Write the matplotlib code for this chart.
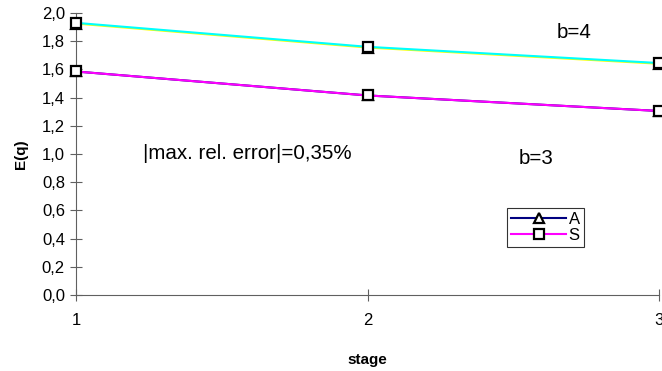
import numpy as np
import matplotlib.pyplot as plt
from matplotlib.ticker import FuncFormatter

plt.rcParams['font.family'] = ['Liberation Sans', 'DejaVu Sans']

# stages and E(q) values for b=3 and b=4
stage = [1, 2, 3]
b3_A = [1.585, 1.415, 1.305]
b3_S = [1.585, 1.415, 1.305]
b4_A = [1.925, 1.755, 1.640]
b4_S = [1.930, 1.760, 1.645]

fig = plt.figure(figsize=(6.62, 3.71), dpi=100)
ax = fig.add_axes([0.1148, 0.2049, 0.8807, 0.7601])

mk = dict(markersize=7, markerfacecolor='white', markeredgecolor='black',
          markeredgewidth=1.6, clip_on=False, zorder=3)
ax.plot(stage, b4_A, color='yellow', lw=1.5, marker='^', **mk)
ax.plot(stage, b4_S, color='cyan', lw=1.5, marker='s', **mk)
la, = ax.plot(stage, b3_A, color='navy', lw=1.5, marker='^', **mk)
ls, = ax.plot(stage, b3_S, color='magenta', lw=1.5, marker='s', **mk)

ax.set_xlim(1, 3)
ax.set_ylim(0, 2.0)
ax.set_xticks([1, 2, 3])
ax.set_yticks(np.arange(0, 2.01, 0.2))
ax.yaxis.set_major_formatter(FuncFormatter(lambda v, p: f'{v:.1f}'.replace('.', ',')))
for s in ['top', 'right']:
    ax.spines[s].set_visible(False)
for s in ['left', 'bottom']:
    ax.spines[s].set_color('#606060')
ax.tick_params(direction='inout', length=8, color='#606060', labelsize=12, pad=4)
ax.tick_params(axis='x', pad=9)

ax.set_xlabel('stage', fontweight='bold', fontsize=11, labelpad=18)
ax.set_ylabel('E(q)', fontweight='bold', fontsize=11, labelpad=10)

ax.text(1.23, 1.0, '|max. rel. error|=0,35%', fontsize=14.8, va='center')
ax.text(2.65, 1.86, 'b=4', fontsize=14.8, va='center')
ax.text(2.52, 0.97, 'b=3', fontsize=14.8, va='center')

leg = ax.legend([la, ls], ['A', 'S'], loc='upper left', bbox_to_anchor=(0.739, 0.31),
                fontsize=12, frameon=True, fancybox=False, edgecolor='black',
                handlelength=3.3, handletextpad=0.15, borderpad=0.25, labelspacing=0.05,
                borderaxespad=0)
leg.get_frame().set_linewidth(0.8)

fig.savefig('out.png', dpi=100)
